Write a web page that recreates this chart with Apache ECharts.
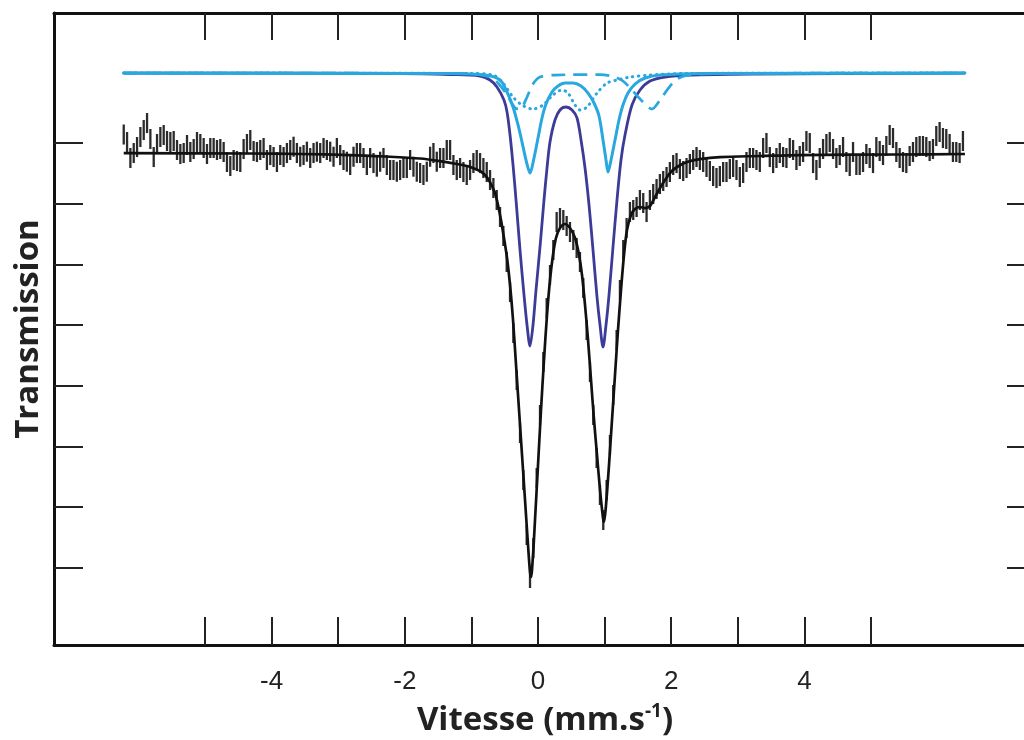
<!DOCTYPE html>
<html>
<head>
<meta charset="utf-8">
<script src="https://cdn.jsdelivr.net/npm/echarts@6/dist/echarts.min.js"></script>
<style>
html,body{margin:0;padding:0;background:#fff;overflow:hidden;width:1024px;height:740px;}
#chart{width:1040px;height:740px;}
</style>
</head>
<body>
<div id="chart"></div>
<script>
// ---- Data (velocity in mm/s, transmission in %) ----
const channelStart = -6.22;   // velocity of first channel (mm/s)
const channelStep = 0.05;     // velocity step per channel (mm/s)
const errorHalf = 0.165;      // half length of the statistical error bar (%)

const transmission = [
100.140,100.016,99.753,99.835,99.934,100.099,100.214,100.329,100.066,99.769,
99.984,100.099,100.132,100.033,100.016,100.033,99.885,99.819,99.835,99.967,
99.852,99.901,100.016,99.984,99.918,99.819,99.918,99.918,99.885,99.901,
99.852,99.687,99.621,99.720,99.703,99.687,99.901,99.984,100.049,99.868,
99.852,99.885,99.918,99.720,99.802,99.769,99.687,99.802,99.769,99.835,
99.885,99.939,99.835,99.774,99.802,99.857,99.753,99.835,99.857,99.835,
99.918,99.885,99.857,99.774,99.918,99.802,99.720,99.692,99.638,99.774,
99.835,99.835,99.753,99.638,99.753,99.670,99.610,99.692,99.753,99.638,
99.555,99.555,99.527,99.555,99.588,99.588,99.720,99.610,99.527,99.506,
99.473,99.527,99.774,99.835,99.692,99.753,99.753,99.885,99.885,99.638,
99.555,99.588,99.522,99.473,99.555,99.670,99.720,99.670,99.588,99.522,
99.390,99.259,99.061,98.781,98.468,98.040,97.545,96.870,96.096,95.223,
94.448,93.542,92.834,93.328,94.481,95.519,96.392,97.282,97.825,98.237,
98.699,98.764,98.731,98.633,98.534,98.402,98.270,98.040,97.611,96.919,
96.227,95.519,94.811,94.201,93.789,94.284,95.025,95.849,96.755,97.578,
98.237,98.600,98.863,98.896,98.946,99.061,99.012,98.863,99.061,99.160,
99.242,99.324,99.374,99.440,99.522,99.638,99.670,99.572,99.539,99.588,
99.654,99.720,99.769,99.720,99.687,99.605,99.539,99.456,99.423,99.456,
99.522,99.522,99.572,99.605,99.555,99.440,99.506,99.687,99.753,99.753,
99.720,99.687,99.918,100.000,99.769,99.670,99.753,99.835,99.769,99.753,
99.918,99.885,99.720,99.786,99.852,100.033,100.000,99.670,99.555,99.753,
99.901,99.984,100.016,99.901,99.753,99.802,99.934,99.687,99.621,99.852,
99.638,99.638,99.687,99.819,99.753,99.670,99.934,99.868,99.802,99.951,
100.132,100.082,99.852,99.753,99.687,99.670,99.786,99.852,99.934,99.951,
99.951,99.934,99.868,99.901,100.115,100.181,100.082,100.066,99.984,99.852,
99.852,99.835,100.033
];

// Total fit [velocity, transmission]
const fitTotal = [
[-6.22,99.835],[-4.324,99.827],[-3.574,99.819],[-2.823,99.802],[-2.297,99.778],
[-1.772,99.745],[-1.471,99.703],[-1.216,99.654],[-1.066,99.621],[-0.976,99.588],
[-0.871,99.539],[-0.796,99.473],[-0.721,99.357],[-0.646,99.176],[-0.601,98.979],
[-0.556,98.731],[-0.511,98.435],[-0.465,98.105],[-0.420,97.661],[-0.375,97.084],
[-0.330,96.343],[-0.285,95.601],[-0.240,94.860],[-0.195,94.119],[-0.150,93.377],
[-0.120,92.933],[-0.105,92.850],[-0.075,93.213],[-0.045,93.789],[0.000,94.695],
[0.045,95.601],[0.090,96.425],[0.135,97.166],[0.180,97.743],[0.225,98.155],
[0.270,98.435],[0.330,98.600],[0.405,98.666],[0.480,98.600],[0.556,98.435],
[0.616,98.155],[0.661,97.825],[0.706,97.331],[0.751,96.755],[0.796,96.096],
[0.841,95.437],[0.886,94.860],[0.931,94.284],[0.976,93.822],[0.991,93.756],
[1.021,94.036],[1.066,94.695],[1.111,95.437],[1.156,96.178],[1.201,96.919],
[1.246,97.578],[1.291,98.155],[1.336,98.567],[1.396,98.814],[1.456,98.913],
[1.532,98.946],[1.607,98.929],[1.682,98.962],[1.757,99.110],[1.832,99.259],
[1.907,99.390],[1.982,99.506],[2.087,99.605],[2.237,99.687],[2.432,99.736],
[2.733,99.769],[3.333,99.786],[3.934,99.802],[5.435,99.811],[6.41,99.819]
];

// Sub-spectrum 1 (dark blue doublet), shifted for display
const fitDoubletA = [
[-6.22,101.153],[-2.072,101.145],[-1.321,101.128],[-0.871,101.104],[-0.721,101.038],
[-0.616,100.923],[-0.511,100.708],[-0.465,100.511],[-0.420,100.132],[-0.375,99.638],
[-0.330,99.061],[-0.270,98.237],[-0.210,97.496],[-0.165,97.002],[-0.120,96.656],
[-0.075,97.002],[-0.030,97.578],[0.030,98.287],[0.090,99.061],[0.135,99.588],
[0.180,100.016],[0.255,100.379],[0.330,100.544],[0.420,100.593],[0.511,100.544],
[0.586,100.412],[0.646,100.049],[0.706,99.588],[0.766,98.979],[0.826,98.237],
[0.886,97.463],[0.931,97.002],[0.976,96.639],[1.021,97.002],[1.066,97.496],
[1.126,98.287],[1.186,99.061],[1.246,99.720],[1.306,100.132],[1.411,100.626],
[1.532,100.873],[1.682,101.021],[1.907,101.087],[2.282,101.120],[3.183,101.136],
[6.41,101.153]
];

// Sub-spectrum 2 (light blue solid doublet)
const fitDoubletB = [
[-6.22,101.153],[-1.321,101.145],[-0.796,101.120],[-0.571,101.038],[-0.465,100.840],
[-0.375,100.593],[-0.300,100.297],[-0.240,100.016],[-0.180,99.720],[-0.120,99.506],
[-0.060,99.753],[0.000,100.082],[0.060,100.412],[0.120,100.642],[0.210,100.840],
[0.300,100.939],[0.405,100.988],[0.526,100.988],[0.646,100.939],[0.751,100.823],
[0.841,100.659],[0.916,100.445],[0.976,100.049],[1.021,99.720],[1.051,99.522],
[1.096,99.720],[1.156,100.049],[1.216,100.379],[1.276,100.626],[1.351,100.823],
[1.456,100.972],[1.607,101.071],[1.832,101.120],[2.432,101.145],[6.41,101.153]
];

// Sub-spectrum 3 (light blue dotted doublet)
const fitDoubletC = [
[-6.22,101.153],[-1.021,101.145],[-0.676,101.120],[-0.526,100.988],[-0.375,100.758],
[-0.240,100.626],[-0.075,100.560],[0.075,100.626],[0.225,100.791],[0.360,100.873],
[0.450,100.824],[0.556,100.626],[0.631,100.544],[0.736,100.593],[0.886,100.824],
[1.036,100.988],[1.186,101.038],[1.381,101.087],[1.682,101.120],[2.177,101.145],
[6.41,101.153]
];

// Sub-spectrum 4 (light blue dashed doublet)
const fitDoubletD = [
[-6.22,101.153],[-1.021,101.145],[-0.721,101.087],[-0.601,100.988],[-0.465,100.791],
[-0.345,100.577],[-0.270,100.560],[-0.165,100.758],[-0.075,100.972],[0.030,101.087],
[0.255,101.120],[0.931,101.128],[1.156,101.087],[1.276,101.021],[1.411,100.873],
[1.577,100.675],[1.712,100.560],[1.832,100.708],[1.937,100.873],[2.087,101.054],
[2.282,101.120],[2.733,101.145],[6.41,101.153]
];

const xTicks = [-5,-4,-3,-2,-1,0,1,2,3,4,5];
const xLabels = [-4,-2,0,2,4];
const yTicks = [93,94,95,96,97,98,99,100];

// ---- Build ----
const points = transmission.map((t, i) => [channelStart + i * channelStep, t]);

const X_MIN = -7.267, X_MAX = 7.477, Y_MIN = 91.73, Y_MAX = 102.142;
const LIGHT = '#29a7df', NAVY = '#3d3b98', INK = '#111';

const chart = echarts.init(document.getElementById('chart'), null, {renderer: 'canvas', width: 1040, height: 740});

const axisLine = {show: true, onZero: false, lineStyle: {color: INK, width: 3}};
const tickStyle = {color: '#222', width: 2};

chart.setOption({
  animation: false,
  backgroundColor: '#fff',
  grid: {left: 54, right: 4, top: 13, bottom: 95, containLabel: false, outerBoundsMode: 'none'},
  xAxis: [
    {
      type: 'value', position: 'bottom', min: X_MIN, max: X_MAX,
      axisLine: axisLine,
      axisTick: {show: true, inside: true, length: 28, lineStyle: tickStyle, customValues: xTicks},
      axisLabel: {show: true, customValues: xLabels, margin: 24, fontSize: 26,
        fontFamily: 'Liberation Sans, Arial, sans-serif', color: '#222'},
      splitLine: {show: false},
      name: 'Vitesse (mm.s{sup|-1})',
      nameLocation: 'middle', nameGap: 57,
      nameTextStyle: {fontFamily: 'Open Sans', fontWeight: 'bold', fontSize: 33, color: '#222',
        rich: {sup: {fontFamily: 'Open Sans', fontWeight: 'bold', fontSize: 19, color: '#222',
          verticalAlign: 'top', padding: [0, 0, 18, 0]}}}
    },
    {
      type: 'value', position: 'top', min: X_MIN, max: X_MAX,
      axisLine: axisLine,
      axisTick: {show: true, inside: true, length: 27, lineStyle: tickStyle, customValues: xTicks},
      axisLabel: {show: false}, splitLine: {show: false}
    }
  ],
  yAxis: [
    {
      type: 'value', position: 'left', min: Y_MIN, max: Y_MAX,
      axisLine: axisLine,
      axisTick: {show: true, inside: true, length: 29, lineStyle: tickStyle, customValues: yTicks},
      axisLabel: {show: false}, splitLine: {show: false},
      name: 'Transmission', nameLocation: 'middle', nameGap: 9, nameRotate: 90,
      nameTextStyle: {fontFamily: 'Open Sans', fontWeight: 'bold', fontSize: 33, color: '#222'}
    },
    {
      type: 'value', position: 'right', min: Y_MIN, max: Y_MAX,
      axisLine: axisLine,
      axisTick: {show: true, inside: true, length: 29, lineStyle: tickStyle, customValues: yTicks},
      axisLabel: {show: false}, splitLine: {show: false}
    }
  ],
  series: [
    {
      name: 'Mesure', type: 'custom', xAxisIndex: 0, yAxisIndex: 0,
      data: points,
      renderItem: function (params, api) {
        const v = api.value(0), t = api.value(1);
        const p1 = api.coord([v, t - errorHalf]);
        const p2 = api.coord([v, t + errorHalf]);
        return {type: 'line', shape: {x1: p1[0], y1: p1[1], x2: p2[0], y2: p2[1]},
          style: {stroke: '#2b2b2b', lineWidth: 2.3}};
      },
      z: 2
    },
    {name: 'Ajustement', type: 'line', data: fitTotal, showSymbol: false, smooth: 0.3,
      lineStyle: {color: INK, width: 2.7}, z: 3},
    {name: 'Doublet 1', type: 'line', data: fitDoubletA, showSymbol: false, smooth: 0.3,
      lineStyle: {color: NAVY, width: 2.8}, z: 4},
    {name: 'Doublet 3', type: 'line', data: fitDoubletC, showSymbol: false, smooth: 0.3,
      lineStyle: {color: LIGHT, width: 3, type: [0.5, 5.5], cap: 'round'}, z: 5},
    {name: 'Doublet 4', type: 'line', data: fitDoubletD, showSymbol: false, smooth: 0.3,
      lineStyle: {color: LIGHT, width: 2.7, type: [14, 8]}, z: 5},
    {name: 'Doublet 2', type: 'line', data: fitDoubletB, showSymbol: false, smooth: 0.3,
      lineStyle: {color: LIGHT, width: 3, cap: 'round'}, z: 6}
  ]
});
</script>
</body>
</html>
